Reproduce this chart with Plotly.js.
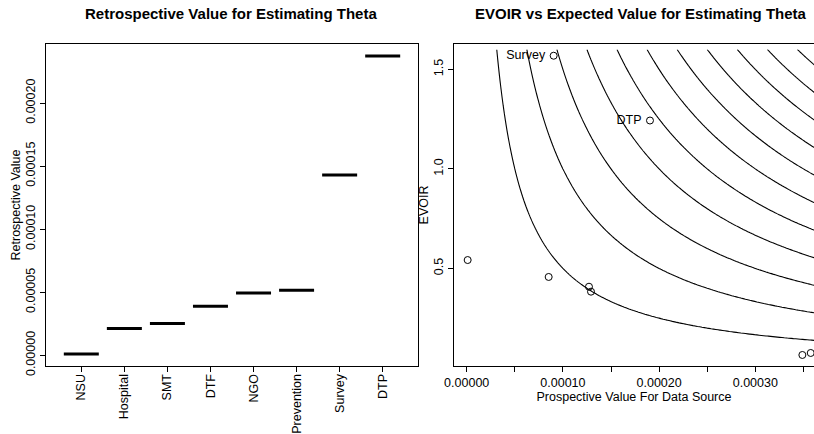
<!DOCTYPE html>
<html>
<head>
<meta charset="utf-8">
<script src="https://cdn.plot.ly/plotly-3.0.1.min.js"></script>
<style>
html,body{margin:0;padding:0;background:#fff;overflow:hidden;}
#chart{width:814px;height:434px;}
</style>
</head>
<body>
<div id="chart"></div>
<script>
// ---- data ----
const sources = ['NSU', 'Hospital', 'SMT', 'DTF', 'NGO', 'Prevention', 'Survey', 'DTP'];
const retrospectiveValue = [0.000001, 0.0000212, 0.0000252, 0.0000389, 0.0000494, 0.0000516, 0.0001429, 0.0002373];

const prospectiveValue = [0.000001, 0.0000852, 0.0001271, 0.0001292, 0.0000904, 0.0001905, 0.0003489, 0.0003576];
const evoir = [0.542, 0.457, 0.408, 0.383, 1.5686, 1.243, 0.065, 0.075];
const pointLabels = ['', '', '', '', 'Survey', 'DTP', '', ''];

// iso-value curves (prospective value x EVOIR = level)
const isoLevelStart = 0.00005;
const isoLevelEnd = 0.00055;
const isoLevelStep = 0.00005;
const gridXMax = 0.00038;
const gridYMax = 1.6;

const leftTickVals = [0, 0.00005, 0.0001, 0.00015, 0.0002];
const rightXTickVals = [0, 0.00005, 0.0001, 0.00015, 0.0002, 0.00025, 0.0003, 0.00035];
const rightXTickText = ['0.00000', '', '0.00010', '', '0.00020', '', '0.00030', ''];
const rightYTickVals = [0.5, 1.0, 1.5];
const rightYTickText = ['0.5', '1.0', '1.5'];

// ---- contour grid ----
const nG = 160;
const gx = [], gy = [];
for (let i = 0; i <= nG; i++) { gx.push(gridXMax * i / nG); gy.push(gridYMax * i / nG); }
const gz = gy.map(yv => gx.map(xv => xv * yv));

const FONT = '"Liberation Sans", Arial, Helvetica, sans-serif';
const FS = 12.5;

const traces = [
  {
    type: 'scatter', mode: 'markers',
    x: sources, y: retrospectiveValue,
    xaxis: 'x', yaxis: 'y',
    marker: { symbol: 'line-ew', size: 25, color: '#000', line: { color: '#000', width: 3 } },
    hoverinfo: 'x+y', showlegend: false
  },
  {
    type: 'contour',
    x: gx, y: gy, z: gz,
    xaxis: 'x2', yaxis: 'y2',
    autocontour: false,
    contours: { start: isoLevelStart, end: isoLevelEnd, size: isoLevelStep, coloring: 'none', showlabels: false },
    line: { color: '#000', width: 1.1, smoothing: 0 },
    showscale: false, hoverinfo: 'skip', showlegend: false
  },
  {
    type: 'scatter', mode: 'markers',
    x: prospectiveValue, y: evoir,
    xaxis: 'x2', yaxis: 'y2',
    marker: { symbol: 'circle-open', size: 7, color: '#000', line: { color: '#000', width: 1 } },
    showlegend: false
  },
  {
    type: 'scatter', mode: 'markers+text',
    x: prospectiveValue, y: evoir, text: pointLabels,
    textposition: 'middle left',
    textfont: { family: FONT, size: FS, color: '#000' },
    xaxis: 'x2', yaxis: 'y2',
    marker: { size: 12, opacity: 0 },
    hoverinfo: 'skip', showlegend: false
  }
];

const axisCommon = {
  showgrid: false, zeroline: false,
  showline: true, linecolor: '#000', linewidth: 1,
  ticks: 'outside', ticklen: 5, tickcolor: '#000', tickwidth: 1,
  tickfont: { family: FONT, size: FS, color: '#000' },
  fixedrange: true
};

const yDom = [1 - 366 / 434, 1 - 44 / 434];

const layout = {
  width: 814, height: 434,
  margin: { l: 0, r: 0, t: 0, b: 0 },
  paper_bgcolor: '#fff', plot_bgcolor: '#fff',
  font: { family: FONT, size: FS, color: '#000' },
  showlegend: false,
  xaxis: Object.assign({}, axisCommon, {
    domain: [46 / 814, 418 / 814], anchor: 'y',
    type: 'category', range: [-0.82, 7.82], mirror: true,
    tickangle: -90, ticklabelstandoff: -3
  }),
  yaxis: Object.assign({}, axisCommon, {
    domain: yDom, anchor: 'x',
    range: [-0.00000845, 0.0002468], mirror: true,
    tickvals: leftTickVals, tickformat: '.5f', tickangle: -90,
    title: { text: 'Retrospective Value', font: { family: FONT, size: FS, color: '#000' }, standoff: 0 }
  }),
  xaxis2: Object.assign({}, axisCommon, {
    domain: [454 / 814, 1], anchor: 'y2',
    range: [-0.0000132, 0.000361], mirror: true,
    tickvals: rightXTickVals, ticktext: rightXTickText,
    title: { text: 'Prospective Value For Data Source', font: { family: FONT, size: FS, color: '#000' }, standoff: 1 }
  }),
  yaxis2: Object.assign({}, axisCommon, {
    domain: yDom, anchor: 'x2',
    range: [0.0096, 1.6275],
    tickvals: rightYTickVals, ticktext: rightYTickText, tickangle: -90,
    title: { text: 'EVOIR', font: { family: FONT, size: FS, color: '#000' }, standoff: 0 }
  }),
  annotations: [
    { text: '<b>Retrospective Value for Estimating Theta</b>', xref: 'paper', yref: 'paper',
      x: 231 / 814, y: 1 - 14 / 434, xanchor: 'center', yanchor: 'middle', showarrow: false,
      font: { family: FONT, size: 15, color: '#000' } },
    { text: '<b>EVOIR vs Expected Value for Estimating Theta</b>', xref: 'paper', yref: 'paper',
      x: 641 / 814, y: 1 - 14 / 434, xanchor: 'center', yanchor: 'middle', showarrow: false,
      font: { family: FONT, size: 15, color: '#000' } }
  ]
};

Plotly.newPlot('chart', traces, layout, { displayModeBar: false, staticPlot: true });
</script>
</body>
</html>
